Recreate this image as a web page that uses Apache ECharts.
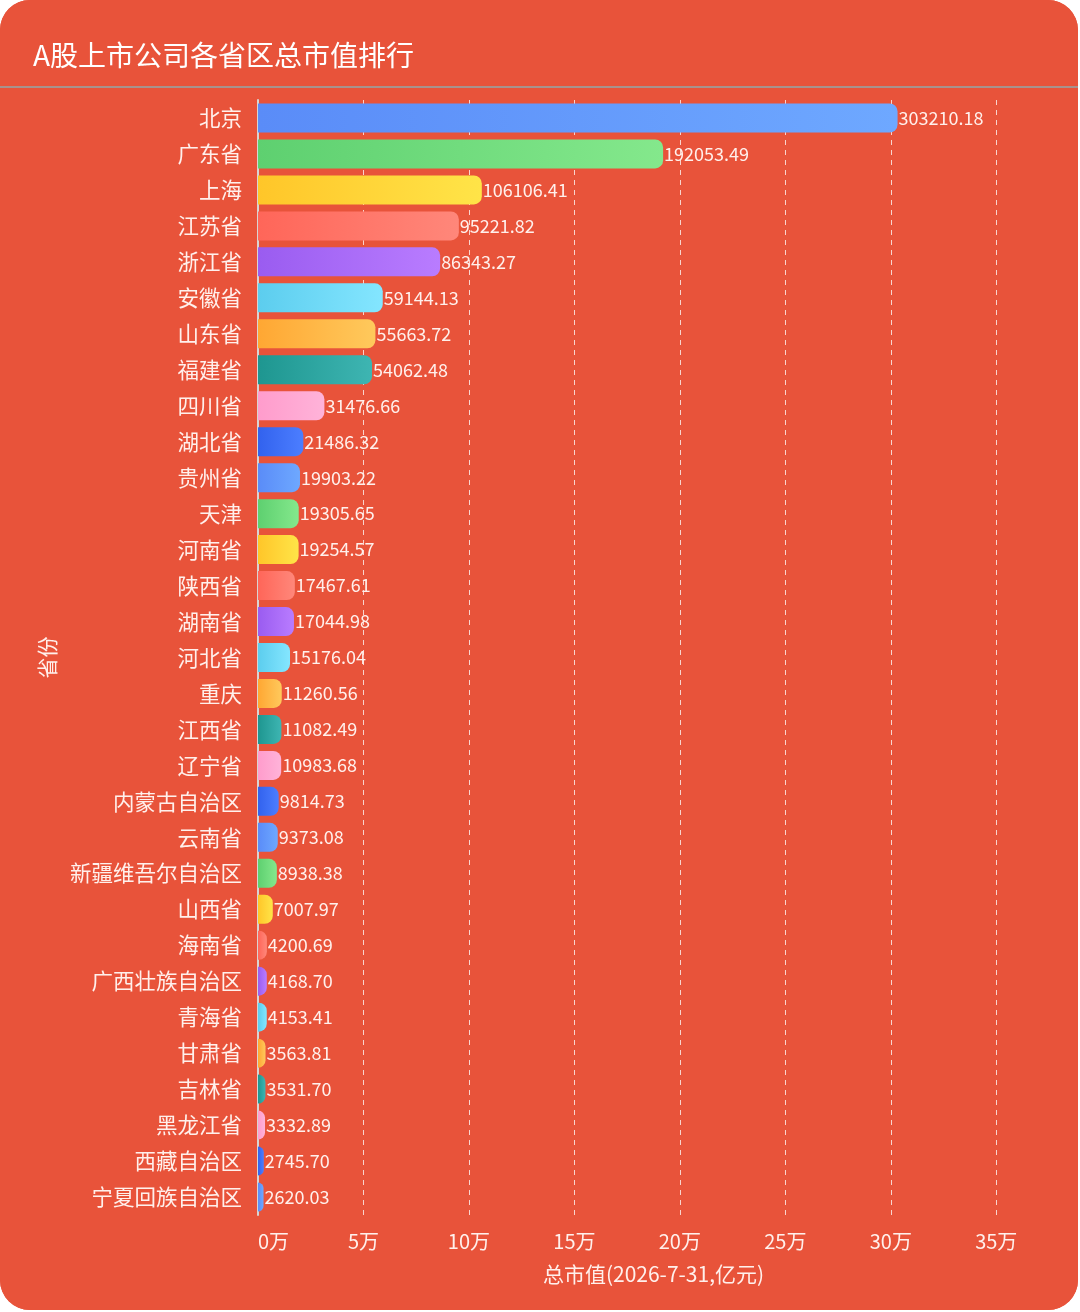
<!DOCTYPE html>
<html>
<head>
<meta charset="utf-8">
<script src="https://cdn.jsdelivr.net/npm/echarts@6/dist/echarts.min.js"></script>
<style>
html,body{margin:0;padding:0;background:#ffffff;}
#chart{width:1078px;height:1310px;border-radius:30px;overflow:hidden;background:#E8533A;}
</style>
</head>
<body>
<div id="chart"></div>
<script>
const provinces = ['北京','广东省','上海','江苏省','浙江省','安徽省','山东省','福建省','四川省','湖北省','贵州省','天津','河南省','陕西省','湖南省','河北省','重庆','江西省','辽宁省','内蒙古自治区','云南省','新疆维吾尔自治区','山西省','海南省','广西壮族自治区','青海省','甘肃省','吉林省','黑龙江省','西藏自治区','宁夏回族自治区'];
const marketValues = [303210.18,192053.49,106106.41,95221.82,86343.27,59144.13,55663.72,54062.48,31476.66,21486.32,19903.22,19305.65,19254.57,17467.61,17044.98,15176.04,11260.56,11082.49,10983.68,9814.73,9373.08,8938.38,7007.97,4200.69,4168.70,4153.41,3563.81,3531.70,3332.89,2745.70,2620.03];
const titleText = 'A股上市公司各省区总市值排行';
const xAxisName = '总市值(2026-7-31,亿元)';
const yAxisName = '省份';

const palette = [
  ['#5A8CF8','#6EA8FF'],
  ['#5ED070','#84E88C'],
  ['#FFC629','#FFE448'],
  ['#FF6659','#FF877A'],
  ['#9A5CF0','#B97CFF'],
  ['#5CCDEE','#84E6FF'],
  ['#FFA733','#FFC95C'],
  ['#1E9690','#3EB5B2'],
  ['#FF9CCC','#FFB3D9'],
  ['#3262EE','#4C7EFF']
];

const chart = echarts.init(document.getElementById('chart'));
const FONT = '"Noto Sans CJK SC", "Noto Sans", sans-serif';
chart.setOption({
  backgroundColor: '#E8533A',
  textStyle: {fontFamily: FONT},
  title: {
    text: titleText,
    left: 28, top: 36,
    textStyle: {color: '#FFFFFF', fontSize: 28, fontWeight: 'normal', fontFamily: FONT}
  },
  graphic: [{
    type: 'line',
    shape: {x1: 0, y1: 87, x2: 1080, y2: 87},
    style: {stroke: '#A8928C', lineWidth: 2}
  }],
  grid: {left: 258, right: 29, top: 100, bottom: 95, containLabel: false},
  xAxis: {
    type: 'value',
    min: 0, max: 375000, interval: 50000,
    name: xAxisName,
    nameLocation: 'middle',
    nameGap: 49,
    nameTextStyle: {color: '#FFF0EC', fontSize: 21},
    axisLine: {show: false},
    axisTick: {show: false},
    axisLabel: {color: '#FFF0EC', fontSize: 20, margin: 16, showMaxLabel: false, alignMinLabel: 'left',
      formatter: v => (v / 10000) + '万'},
    splitLine: {show: true, showMaxLine: false, lineStyle: {color: 'rgba(255,255,255,0.75)', type: [5, 5], width: 1}}
  },
  yAxis: {
    type: 'category',
    inverse: true,
    data: provinces,
    name: yAxisName,
    nameLocation: 'middle',
    nameGap: 200,
    nameRotate: 90,
    nameTextStyle: {color: '#FFF0EC', fontSize: 21},
    axisLine: {show: true, lineStyle: {color: '#D9D4D2', width: 2}},
    axisTick: {show: false},
    axisLabel: {color: '#FFF0EC', fontSize: 21.5, margin: 16}
  },
  series: [{
    type: 'bar',
    data: marketValues.map((v, i) => ({
      value: v,
      itemStyle: {
        color: new echarts.graphic.LinearGradient(0, 0, 1, 0, [
          {offset: 0, color: palette[i % 10][0]},
          {offset: 1, color: palette[i % 10][1]}
        ])
      }
    })),
    barWidth: 29,
    itemStyle: {borderRadius: [0, 8, 8, 0]},
    label: {
      show: true, position: 'right', distance: 1,
      color: '#FFF0EC', fontSize: 18,
      formatter: p => p.value.toFixed(2)
    },
    animation: false
  }],
  animation: false
});
</script>
</body>
</html>
